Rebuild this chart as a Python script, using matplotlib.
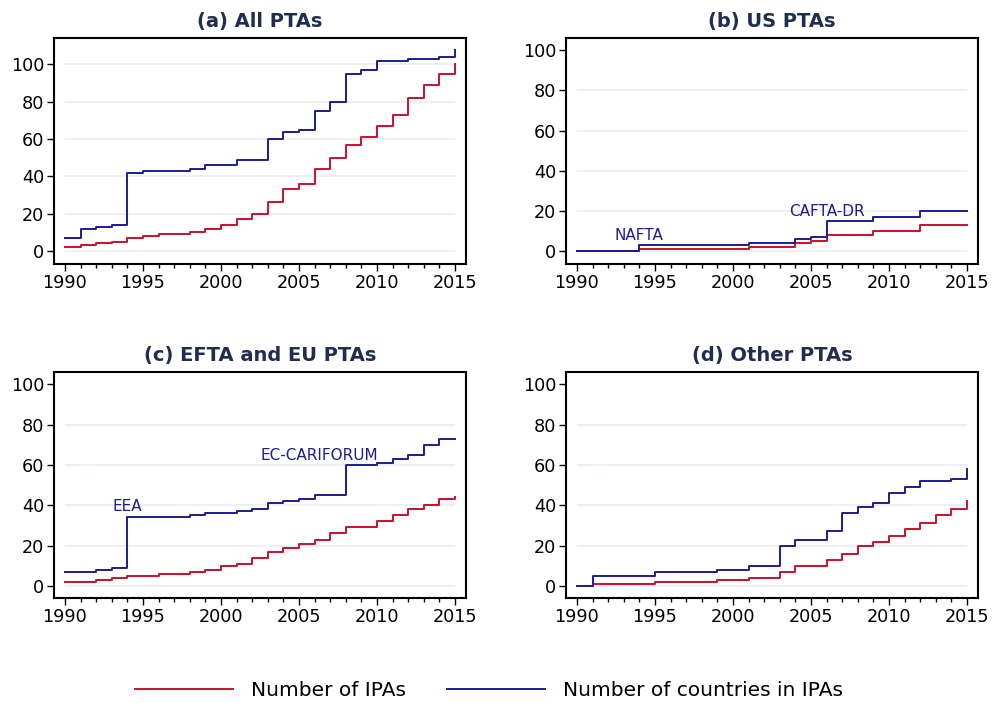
import matplotlib.pyplot as plt
import numpy as np

plt.rcParams['font.family'] = ['DejaVu Sans']

years = np.arange(1990, 2016)

# (a) All PTAs
all_ipas = [2, 3, 4, 5, 7, 8, 9, 9, 10, 12, 14, 17, 20, 26, 33, 36, 44, 50, 57, 61, 67, 73, 82, 89, 95, 100]
all_countries = [7, 12, 13, 14, 42, 43, 43, 43, 44, 46, 46, 49, 49, 60, 64, 65, 75, 80, 95, 97, 102, 102, 103, 103, 104, 108]

# (b) US PTAs
us_ipas = [0, 0, 0, 0, 1, 1, 1, 1, 1, 1, 1, 2, 2, 2, 4, 5, 8, 8, 8, 10, 10, 10, 13, 13, 13, 13]
us_countries = [0, 0, 0, 0, 3, 3, 3, 3, 3, 3, 3, 4, 4, 4, 6, 7, 15, 15, 15, 17, 17, 17, 20, 20, 20, 20]

# (c) EFTA and EU PTAs
eu_ipas = [2, 2, 3, 4, 5, 5, 6, 6, 7, 8, 10, 11, 14, 17, 19, 21, 23, 26, 29, 29, 32, 35, 38, 40, 43, 44]
eu_countries = [7, 7, 8, 9, 34, 34, 34, 34, 35, 36, 36, 37, 38, 41, 42, 43, 45, 45, 60, 60, 61, 63, 65, 70, 73, 73]

# (d) Other PTAs
oth_ipas = [0, 1, 1, 1, 1, 2, 2, 2, 2, 3, 3, 4, 4, 7, 10, 10, 13, 16, 20, 22, 25, 28, 31, 35, 38, 42]
oth_countries = [0, 5, 5, 5, 5, 7, 7, 7, 7, 8, 8, 10, 10, 20, 23, 23, 27, 36, 39, 41, 46, 49, 52, 52, 53, 58]

titles = ['(a) All PTAs', '(b) US PTAs', '(c) EFTA and EU PTAs', '(d) Other PTAs']
ipas = [all_ipas, us_ipas, eu_ipas, oth_ipas]
countries = [all_countries, us_countries, eu_countries, oth_countries]
ylims = [(-7, 114), (-6.5, 106), (-6, 106), (-6, 106)]
grid_tops = [100, 80, 80, 80]

# text labels: (panel, label, x, y)
notes = [(1, 'NAFTA', 1994.0, 7.5), (1, 'CAFTA-DR', 2006.0, 19.5),
         (2, 'EEA', 1994.0, 39.5), (2, 'EC-CARIFORUM', 2006.3, 64.5)]

red = '#c8102e'
blue = '#1c1c94'
navy = '#1f2d50'

fig = plt.figure(figsize=(9.94, 7.03), dpi=100)
positions = [(0.0543, 0.6245), (0.5694, 0.6245), (0.0543, 0.1494), (0.5694, 0.1494)]
axes = []
for i, (l, b) in enumerate(positions):
    ax = fig.add_axes([l, b, 0.4145, 0.321])
    axes.append(ax)
    for g in range(0, grid_tops[i] + 1, 20):
        ax.hlines(g, 1990, 2015, color='#e6eef2', lw=1.2, zorder=0)
    l1, = ax.plot(years, ipas[i], drawstyle='steps-post', color=red, lw=1.4)
    l2, = ax.plot(years, countries[i], drawstyle='steps-post', color=blue, lw=1.4)
    ax.set_xlim(1989.3, 2015.7)
    ax.set_ylim(*ylims[i])
    ax.set_xticks(range(1990, 2016, 5))
    ax.set_xticks(range(1990, 2016), minor=True)
    ax.set_yticks(range(0, 101, 20))
    ax.tick_params(axis='both', which='major', direction='out', length=5, width=1,
                   labelsize=12.7, colors='black', pad=2)
    ax.tick_params(axis='x', which='minor', direction='out', length=3, width=1)
    ax.tick_params(axis='y', which='minor', left=False)
    for s in ax.spines.values():
        s.set_linewidth(1.5)
    ax.set_title(titles[i], fontsize=14, fontweight='bold', color=navy, pad=8)

for p, txt, x, y in notes:
    axes[p].text(x, y, txt, color=blue, fontsize=11,
                 ha='center', va='center')

fig.legend([l1, l2], ['Number of IPAs', 'Number of countries in IPAs'],
           loc='center', bbox_to_anchor=(0.492, 0.018), ncol=2, frameon=False,
           fontsize=14.5, handlelength=4.9, columnspacing=2.0, handletextpad=0.9)

fig.savefig('out.png', dpi=100)
